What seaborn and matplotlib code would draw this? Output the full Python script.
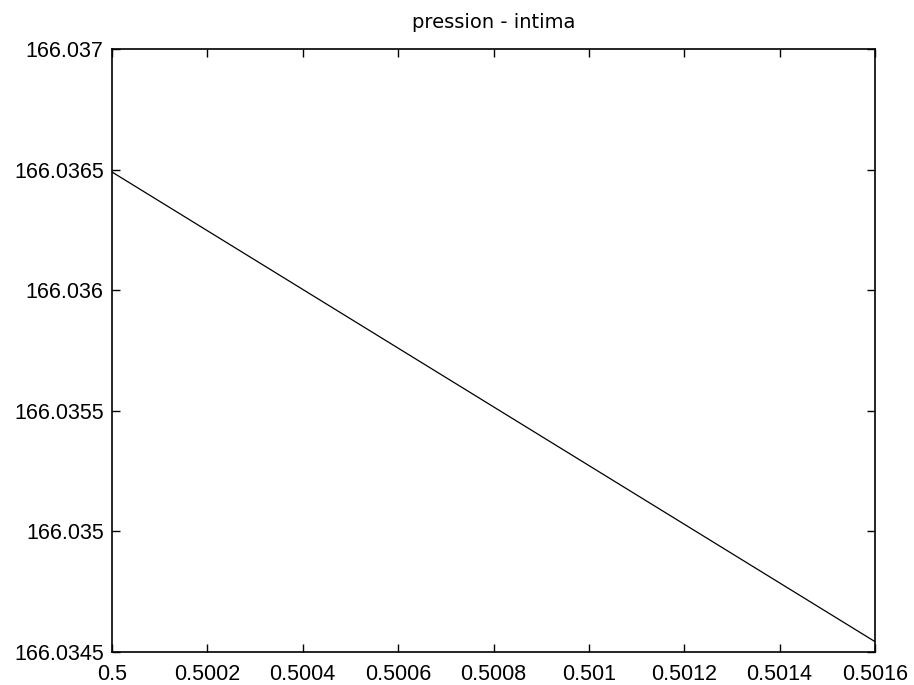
import matplotlib
matplotlib.use("Agg")
import matplotlib.pyplot as plt
import seaborn as sns
import pandas as pd

x_vals = [0.5, 0.5016]
y_vals = [166.03649, 166.034543]
x_ticks = [0.5, 0.5002, 0.5004, 0.5006, 0.5008, 0.501, 0.5012, 0.5014, 0.5016]
x_labels = ["0.5", "0.5002", "0.5004", "0.5006", "0.5008", "0.501", "0.5012", "0.5014", "0.5016"]
y_ticks = [166.0345, 166.035, 166.0355, 166.036, 166.0365, 166.037]
y_labels = ["166.0345", "166.035", "166.0355", "166.036", "166.0365", "166.037"]
title = "pression - intima"

sns.set_style("ticks")
plt.rcParams['font.family'] = ['Liberation Sans', 'DejaVu Sans']

df = pd.DataFrame({"x": x_vals, "y": y_vals})
fig = plt.figure(figsize=(9.14, 6.85), dpi=100)
ax = fig.add_axes([112/914, 1-652/685, (875-112)/914, (652-49)/685])
sns.lineplot(data=df, x="x", y="y", ax=ax, color="black", linewidth=0.9)
ax.set_xlim(0.5, 0.5016)
ax.set_ylim(166.0345, 166.037)
ax.set_xticks(x_ticks)
ax.set_xticklabels(x_labels)
ax.set_yticks(y_ticks)
ax.set_yticklabels(y_labels)
ax.set_xlabel("")
ax.set_ylabel("")
ax.tick_params(direction="in", length=6, width=1, labelsize=15.5, top=True, right=True,
               colors="black", labelcolor="black")
ax.tick_params(axis="x", pad=9)
ax.tick_params(axis="y", pad=6)
for s in ax.spines.values():
    s.set_visible(True)
    s.set_color("black")
    s.set_linewidth(1.2)
ax.set_title(title, fontsize=14, pad=15, family=['DejaVu Sans'], color="black")
fig.savefig("out.png", dpi=100)
